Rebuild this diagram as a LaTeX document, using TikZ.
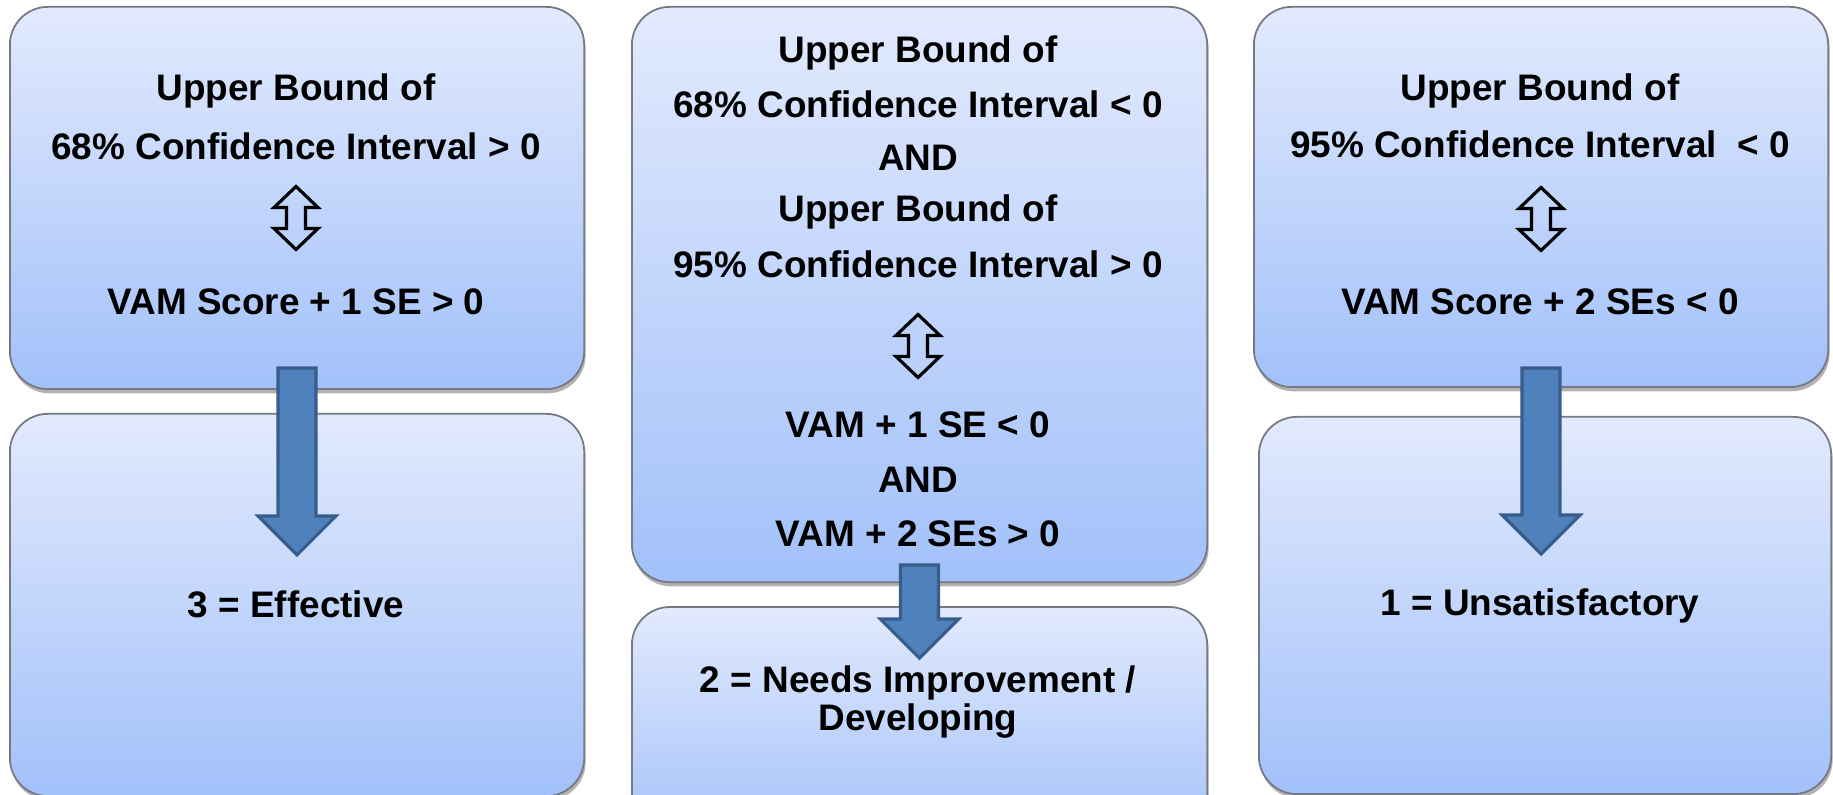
\documentclass[tikz,border=0pt]{standalone}
\usepackage{fontspec}
\setmainfont{Liberation Sans}
\usepackage{tikz}
\usetikzlibrary{positioning, shadows}

\definecolor{paneltop}{RGB}{226,234,253}
\definecolor{panelbot}{RGB}{162,193,250}
\definecolor{paneledge}{RGB}{118,120,130}
\definecolor{arrowfill}{RGB}{79,129,189}
\definecolor{arrowedge}{RGB}{56,93,138}

\begin{document}
\begin{tikzpicture}[
    x=0.01cm, y=-0.01cm,
    panel/.style={rectangle, draw=paneledge, line width=0.5pt, rounded corners=0.38cm,
        top color=paneltop, bottom color=panelbot, anchor=north west, inner sep=0pt,
        drop shadow={shadow xshift=0.4pt, shadow yshift=-1.2pt, opacity=0.3, fill=black}},
    txt/.style={inner sep=0pt, align=center, font=\bfseries\fontsize{10.5}{12}\selectfont},
    blockarrow/.style={fill=arrowfill, draw=arrowedge, line width=0.9pt, line join=miter},
    hollowarrow/.style={draw=black, line width=0.9pt, line join=miter},
    pics/updown/.style={code={
        \draw[hollowarrow] (0,-31.5) -- (22,-10.5) -- (9.5,-10.5) -- (9.5,10.5) -- (22,10.5)
            -- (0,31.5) -- (-22,10.5) -- (-9.5,10.5) -- (-9.5,-10.5) -- (-22,-10.5) -- cycle;}},
    pics/down/.style={code={
        \draw[blockarrow] (-19,0) -- (19,0) -- (19,#1-39) -- (39,#1-39) -- (0,#1)
            -- (-39,#1-39) -- (-19,#1-39) -- cycle;}}
]
\useasboundingbox (0,0) rectangle (1833,795);
\clip (0,0) rectangle (1833,795);

% Panels
\node[panel, minimum width=5.74cm, minimum height=3.82cm] (lt) at (9,6) {};
\node[panel, minimum width=5.74cm, minimum height=3.82cm, below=0.23cm of lt] (lb) {};
\node[panel, minimum width=5.75cm, minimum height=5.75cm] (mt) at (631,6) {};
\node[panel, minimum width=5.75cm, minimum height=2.4cm, below=0.23cm of mt] (mb) {};
\node[panel, minimum width=5.74cm, minimum height=3.80cm] (rt) at (1253,6) {};
\node[panel, minimum width=5.72cm, minimum height=3.77cm] (rb) at (1258,416) {};

% Left column
\node[txt] (lt1) at (296,91) {Upper Bound of};
\node[txt] (lt2) at (296,146) {68\% Confidence Interval > 0};
\pic at (296,218) {updown};
\node[txt] (lt3) at (296,302) {VAM Score + 1 SE > 0};
\node[txt] (lb1) at (296,604) {3 = Effective};

% Middle column
\node[txt] (mt1) at (918,53) {Upper Bound of};
\node[txt] (mt2) at (918,104) {68\% Confidence Interval < 0};
\node[txt] (mt3) at (918,158) {AND};
\node[txt] (mt4) at (918,212) {Upper Bound of};
\node[txt] (mt5) at (918,264) {95\% Confidence Interval > 0};
\pic at (918,346) {updown};
\node[txt] (mt6) at (918,425) {VAM + 1 SE < 0};
\node[txt] (mt7) at (918,480) {AND};
\node[txt] (mt8) at (918,534) {VAM + 2 SEs > 0};
\node[txt, font=\bfseries\fontsize{10.5}{8.8}\selectfont] (mb1) at (918,702) {2 = Needs Improvement /\\Developing};

% Right column
\node[txt] (rt1) at (1540,91) {Upper Bound of};
\node[txt] (rt2) at (1540,144) {95\% Confidence Interval~ < 0};
\pic at (1541,219) {updown};
\node[txt] (rt3) at (1540,302) {VAM Score + 2 SEs < 0};
\node[txt] (rb1) at (1540,606) {1 = Unsatisfactory};

% Block arrows
\pic at ([yshift=0.22cm]lt.south) {down=187};
\pic at ([yshift=0.18cm]mt.south) {down=93};
\pic at ([yshift=0.2cm]rt.south) {down=186};

\end{tikzpicture}
\end{document}
